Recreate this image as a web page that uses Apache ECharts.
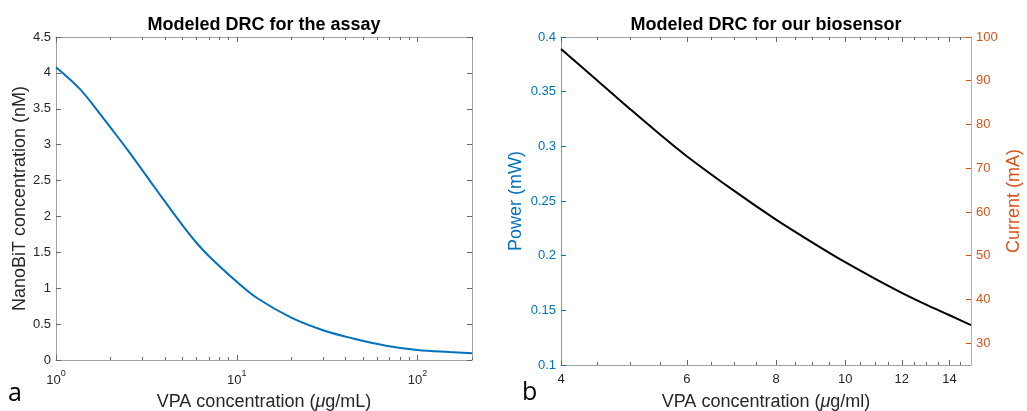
<!DOCTYPE html>
<html><head><meta charset="utf-8">
<script src="https://cdn.jsdelivr.net/npm/echarts@6/dist/echarts.min.js"></script>
<style>html,body{margin:0;padding:0;background:#fff}#c{width:1027px;height:411px}</style>
</head><body><div id="c"></div>
<script>
// ---- data ----
const assayX = [1, 1.35, 1.75, 2, 2.5, 3.3, 4, 5, 6, 7, 10, 13, 20, 30, 44, 67, 100, 150, 200];
const assayY = [4.08, 3.78, 3.43, 3.24, 2.92, 2.50, 2.21, 1.88, 1.63, 1.45, 1.09, 0.86, 0.59, 0.415, 0.30, 0.20, 0.14, 0.11, 0.093];
const sensorX = [4, 4.5, 5, 5.5, 6, 7, 8, 9, 10, 11, 12, 13, 14, 15];
const sensorPower = [0.389, 0.360, 0.334, 0.311, 0.291, 0.259, 0.233, 0.212, 0.194, 0.179, 0.166, 0.155, 0.1455, 0.1365];
const assayMajorTicks = [1, 10, 100];
const assayMinorTicks = [2, 3, 4, 5, 6, 7, 8, 9, 20, 30, 40, 50, 60, 70, 80, 90, 200];
const sensorMajorTicks = [4, 6, 8, 10, 12, 14];
const sensorMinorTicks = [4.5, 5, 5.5, 6.5, 7, 7.5, 8.5, 9, 9.5, 10.5, 11, 11.5, 12.5, 13, 13.5, 14.5];
const currentTicks = [30, 40, 50, 60, 70, 80, 90, 100];

const FONT = 'Liberation Sans';
const GRAY = '#a0a0a0';
const TXT = '#262626';
const BLUE = '#0072BD';
const BLUE_LINE = '#5aa6e0';
const ORANGE = '#D95319';
const ORANGE_LINE = '#eea080';

function logX(grid, pos, min, max, ticks, len, showLine, label) {
  return {
    gridIndex: grid, type: 'log', logBase: 10, min: min, max: max, position: pos,
    axisLine: { show: showLine, onZero: false, lineStyle: { color: GRAY, width: 1 } },
    axisTick: { show: true, inside: true, length: len, customValues: ticks, lineStyle: { color: '#666' } },
    axisLabel: label ? label : { show: false },
    splitLine: { show: false }, minorTick: { show: false }
  };
}

const superLabel = {
  show: true, customValues: assayMajorTicks, margin: 9,
  formatter: v => '{b|10}{s|' + Math.round(Math.log10(v)) + '}',
  rich: {
    b: { fontSize: 13, fontFamily: FONT, color: TXT, lineHeight: 18, verticalAlign: 'bottom' },
    s: { fontSize: 9, fontFamily: FONT, color: TXT, lineHeight: 18, verticalAlign: 'top' }
  }
};
const sensorLabel = {
  show: true, customValues: sensorMajorTicks, margin: 8,
  fontSize: 13, fontFamily: FONT, color: TXT
};
const nameStyle = (c) => ({ fontSize: 18, fontFamily: FONT, color: c,
  rich: { i: { fontSize: 18, fontFamily: FONT, fontStyle: 'italic', color: c } } });

const xAxes = [
  Object.assign(logX(0, 'bottom', 1, 200, assayMajorTicks, 5, true, superLabel), {
    name: 'VPA concentration ({i|μ}g/mL)', nameLocation: 'middle', nameGap: 33,
    nameTextStyle: nameStyle(TXT)
  }),
  logX(0, 'bottom', 1, 200, assayMinorTicks, 3, false),
  logX(0, 'top', 1, 200, assayMajorTicks, 5, true),
  logX(0, 'top', 1, 200, assayMinorTicks, 3, false),
  Object.assign(logX(1, 'bottom', 4, 15, sensorMajorTicks, 5, true, sensorLabel), {
    name: 'VPA concentration ({i|μ}g/ml)', nameLocation: 'middle', nameGap: 28,
    nameTextStyle: nameStyle(TXT)
  }),
  logX(1, 'bottom', 4, 15, sensorMinorTicks, 3, false),
  logX(1, 'top', 4, 15, sensorMajorTicks, 5, true),
  logX(1, 'top', 4, 15, sensorMinorTicks, 3, false)
];

const yAxes = [
  {
    gridIndex: 0, type: 'value', min: 0, max: 4.5, interval: 0.5, position: 'left',
    axisLine: { show: true, onZero: false, lineStyle: { color: GRAY } },
    axisTick: { show: true, inside: true, length: 5, lineStyle: { color: '#666' } },
    axisLabel: { fontSize: 13, fontFamily: FONT, color: TXT, margin: 5 },
    splitLine: { show: false },
    name: 'NanoBiT concentration (nM)', nameLocation: 'middle', nameGap: 27,
    nameTextStyle: nameStyle(TXT)
  },
  {
    gridIndex: 0, type: 'value', min: 0, max: 4.5, interval: 0.5, position: 'right',
    axisLine: { show: true, onZero: false, lineStyle: { color: GRAY } },
    axisTick: { show: true, inside: true, length: 5, lineStyle: { color: '#666' } },
    axisLabel: { show: false }, splitLine: { show: false }
  },
  {
    gridIndex: 1, type: 'value', min: 0.1, max: 0.4, interval: 0.05, position: 'left',
    axisLine: { show: true, onZero: false, lineStyle: { color: BLUE_LINE } },
    axisTick: { show: true, inside: true, length: 5, lineStyle: { color: BLUE } },
    axisLabel: { fontSize: 13, fontFamily: FONT, color: BLUE, margin: 5 },
    splitLine: { show: false },
    name: 'Power (mW)', nameLocation: 'middle', nameGap: 36,
    nameTextStyle: nameStyle(BLUE)
  },
  {
    gridIndex: 1, type: 'value', min: 25, max: 100, position: 'right',
    axisLine: { show: true, onZero: false, lineStyle: { color: ORANGE_LINE } },
    axisTick: { show: true, inside: true, length: 5, customValues: currentTicks, lineStyle: { color: ORANGE } },
    axisLabel: { customValues: currentTicks, fontSize: 13, fontFamily: FONT, color: ORANGE, margin: 5 },
    splitLine: { show: false },
    name: 'Current (mA)', nameLocation: 'middle', nameGap: 34,
    nameTextStyle: nameStyle(ORANGE)
  }
];

const chart = echarts.init(document.getElementById('c'), null, { renderer: 'canvas' });
chart.setOption({
  animation: false,
  backgroundColor: '#fff',
  grid: [
    { left: 56, top: 37, width: 416, height: 323, containLabel: false, outerBoundsMode: 'none' },
    { left: 561, top: 37, width: 410, height: 328, containLabel: false, outerBoundsMode: 'none' }
  ],
  xAxis: xAxes,
  yAxis: yAxes,
  series: [
    {
      type: 'line', xAxisIndex: 0, yAxisIndex: 0, smooth: 0.35, showSymbol: false,
      lineStyle: { color: BLUE, width: 2 },
      data: assayX.map((x, i) => [x, assayY[i]])
    },
    {
      type: 'line', xAxisIndex: 4, yAxisIndex: 2, smooth: 0.35, showSymbol: false,
      lineStyle: { color: '#000', width: 2 },
      data: sensorX.map((x, i) => [x, sensorPower[i]])
    }
  ],
  graphic: [
    { type: 'text', x: 264, y: 25, style: { text: 'Modeled DRC for the assay', align: 'center', verticalAlign: 'middle',
      font: 'bold 18px "Liberation Sans"', fill: '#000' } },
    { type: 'text', x: 766, y: 25, style: { text: 'Modeled DRC for our biosensor', align: 'center', verticalAlign: 'middle',
      font: 'bold 18px "Liberation Sans"', fill: '#000' } },
    { type: 'text', x: 8, y: 394, style: { text: 'a', align: 'left', verticalAlign: 'middle',
      font: '25px "Open Sans"', fill: '#000' } },
    { type: 'text', x: 522, y: 393, style: { text: 'b', align: 'left', verticalAlign: 'middle',
      font: '25px "Open Sans"', fill: '#000' } }
  ]
});
</script>
</body></html>
